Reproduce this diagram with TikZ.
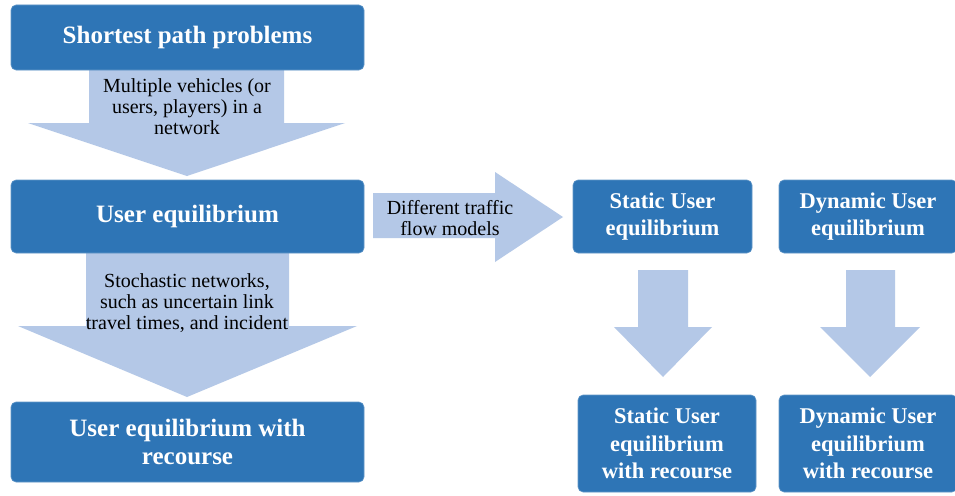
\documentclass[tikz,border=0pt]{standalone}
\usepackage{fontspec}
\setmainfont{Liberation Serif}
\definecolor{boxblue}{HTML}{2E75B6}
\definecolor{arrowblue}{HTML}{B4C8E7}
\begin{document}
\begin{tikzpicture}[x=1pt,y=-1pt,
  bigbox/.style={fill=boxblue, draw=boxblue!75!white, line width=0.6pt, rounded corners=5pt,
    text=white, font=\bfseries\fontsize{25}{28}\selectfont, align=center, inner sep=0pt},
  smallbox/.style={bigbox, font=\bfseries\fontsize{22.5}{27.5}\selectfont},
  blockarrow/.style={fill=arrowblue, draw=none},
  lbl/.style={font=\fontsize{20}{21}\selectfont, align=center, text=black, inner sep=0pt}]
\fill[white] (0,0) rectangle (955,495);
\useasboundingbox (0,0) rectangle (955,495);
% block arrows
\path[blockarrow] (89,70) -- (89,123) -- (28,123) -- (187,176) -- (345,123) -- (284,123) -- (284,70) -- cycle;
\path[blockarrow] (86,253) -- (86,326) -- (18,326) -- (187,397) -- (357,326) -- (289,326) -- (289,253) -- cycle;
\path[blockarrow] (373,193) -- (495,193) -- (495,172) -- (563,217) -- (495,262) -- (495,238) -- (373,238) -- cycle;
\path[blockarrow] (638,270) -- (688,270) -- (688,327) -- (712,327) -- (663,377) -- (614,327) -- (638,327) -- cycle;
\path[blockarrow] (846,270) -- (895,270) -- (895,327) -- (920,327) -- (870,377) -- (820,327) -- (846,327) -- cycle;
% boxes
\node[bigbox, minimum width=353pt, minimum height=65pt] (spp) at (187.5,37.5) {Shortest path problems};
\node[bigbox, minimum width=353pt, minimum height=73pt] (ue) at (187.5,216.5) {User equilibrium};
\node[bigbox, minimum width=353pt, minimum height=80pt] (uer) at (187.5,442) {User equilibrium with\\recourse};
\node[smallbox, minimum width=179pt, minimum height=73pt] (sue) at (662.5,216.5) {Static User\\equilibrium};
\node[smallbox, minimum width=178pt, minimum height=73pt] (due) at (868,216.5) {Dynamic User\\equilibrium};
\node[smallbox, minimum width=178pt, minimum height=97pt] (suer) at (667,443.5) {Static User\\equilibrium\\with recourse};
\node[smallbox, minimum width=178pt, minimum height=97pt] (duer) at (868,443.5) {Dynamic User\\equilibrium\\with recourse};
% labels
\node[lbl] (l1) at (187,107) {Multiple vehicles (or\\users, players) in a\\network};
\node[lbl] (l2) at (187,303) {Stochastic networks,\\such as uncertain link\\travel times, and incident};
\node[lbl] (l3) at (450,218.5) {Different traffic\\flow models};
\end{tikzpicture}
\end{document}
